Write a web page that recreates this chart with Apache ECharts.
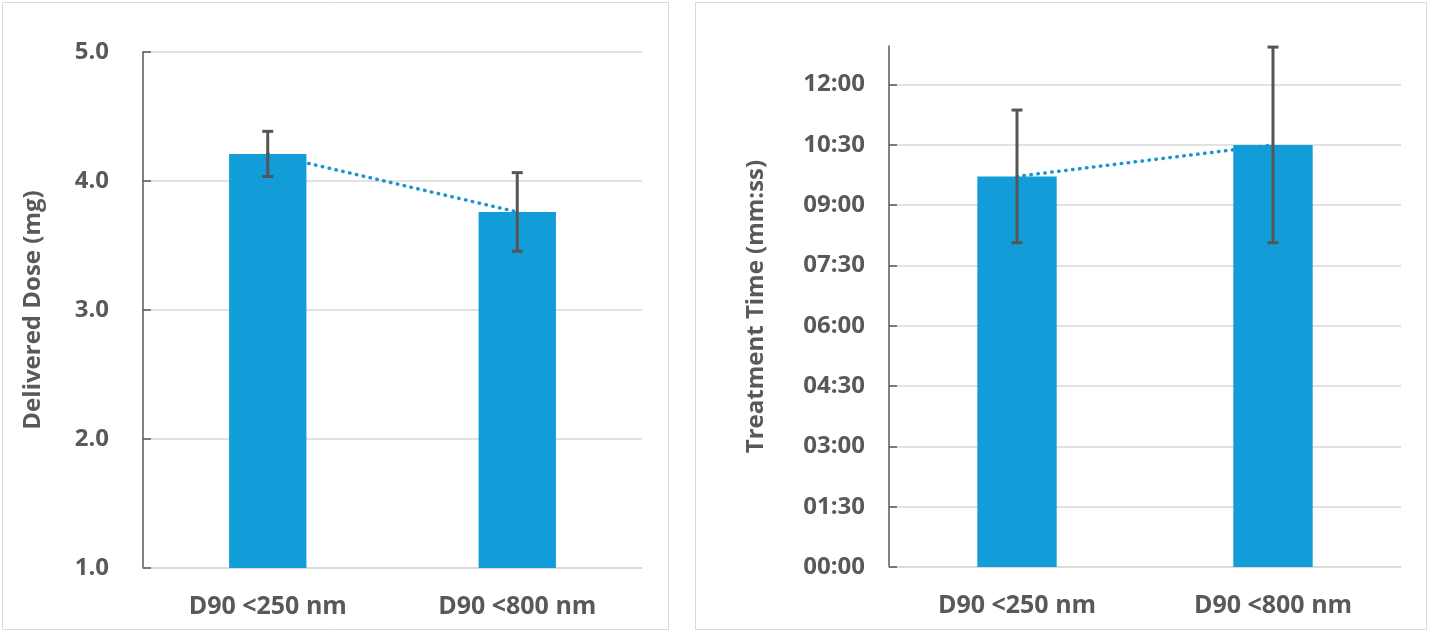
<!DOCTYPE html>
<html>
<head>
<meta charset="utf-8">
<script src="https://cdn.jsdelivr.net/npm/echarts@6/dist/echarts.min.js"></script>
<style>
html,body{margin:0;padding:0;background:#fff;}
#chart{width:1430px;height:633px;}
</style>
</head>
<body>
<div id="chart"></div>
<script>
// Data
const categories = ['D90 <250 nm', 'D90 <800 nm'];
const doseMeans = [4.21, 3.76];          // mg
const doseErrors = [0.175, 0.305];       // mg
const timeMeans = [583, 630];            // seconds
const timeErrors = [99, 146];            // seconds
const doseTicks = [1, 2, 3, 4, 5];
const timeTickStep = 90;                 // seconds
const timeAxisMax = 777.6;               // seconds (0.009 day)

const TXT = '#595959';
const BAR = '#129dd8';
const FONT = 'Open Sans';

function fmtTime(v){
  const m = Math.floor(v/60), s = Math.round(v - m*60);
  return String(m).padStart(2,'0') + ':' + String(s).padStart(2,'0');
}

function errData(means, errs){
  return means.map((m,i)=>[i, m-errs[i], m+errs[i]]);
}

function errRender(params, api){
  const x = api.value(0), lo = api.value(1), hi = api.value(2);
  const p1 = api.coord([x, hi]), p2 = api.coord([x, lo]);
  const h = 5.5;
  const style = {stroke:'#555555', lineWidth:3, fill:null};
  return {type:'group', children:[
    {type:'line', shape:{x1:p1[0],y1:p1[1],x2:p2[0],y2:p2[1]}, style:style},
    {type:'line', shape:{x1:p1[0]-h,y1:p1[1],x2:p1[0]+h,y2:p1[1]}, style:style},
    {type:'line', shape:{x1:p2[0]-h,y1:p2[1],x2:p2[0]+h,y2:p2[1]}, style:style}
  ]};
}

const labelStyle = {color:TXT, fontFamily:FONT, fontWeight:'bold', fontSize:24};
const xLabelStyle = {color:TXT, fontFamily:FONT, fontWeight:'bold', fontSize:25};

const chart = echarts.init(document.getElementById('chart'));
chart.setOption({
  animation:false,
  backgroundColor:'#fff',
  textStyle:{fontFamily:FONT},
  graphic:[
    {type:'rect', shape:{x:2.5,y:2.5,width:666,height:627}, style:{fill:null, stroke:'#d9d9d9', lineWidth:1}, z:-1},
    {type:'rect', shape:{x:695.5,y:2.5,width:731,height:627}, style:{fill:null, stroke:'#d9d9d9', lineWidth:1}, z:-1}
  ],
  grid:[
    {left:143, top:52, right:788, bottom:65},
    {left:889, top:46, right:29, bottom:66}
  ],
  xAxis:[
    {type:'category', gridIndex:0, data:categories,
     axisLine:{lineStyle:{color:'#d9d9d9', width:1.5}}, axisTick:{show:false},
     axisLabel:Object.assign({margin:26}, xLabelStyle)},
    {type:'category', gridIndex:1, data:categories,
     axisLine:{lineStyle:{color:'#d9d9d9', width:1.5}}, axisTick:{show:false},
     axisLabel:Object.assign({margin:26}, xLabelStyle)}
  ],
  yAxis:[
    {type:'value', gridIndex:0, min:doseTicks[0], max:doseTicks[doseTicks.length-1], interval:1,
     name:'Delivered Dose (mg)', nameLocation:'middle', nameGap:98, nameRotate:90,
     nameTextStyle:labelStyle,
     axisLine:{show:true, lineStyle:{color:'#595959', width:1.5}},
     axisTick:{show:true, inside:true, length:8, lineStyle:{color:'#595959', width:1.5}},
     axisLabel:Object.assign({margin:34, formatter:v=>v.toFixed(1)}, labelStyle),
     splitLine:{lineStyle:{color:'#d9d9d9', width:1.5}}},
    {type:'value', gridIndex:1, min:0, max:timeAxisMax, interval:timeTickStep,
     name:'Treatment Time (mm:ss)', nameLocation:'middle', nameGap:121, nameRotate:90,
     nameTextStyle:labelStyle,
     axisLine:{show:true, lineStyle:{color:'#595959', width:1.5}},
     axisTick:{show:true, inside:true, length:8, lineStyle:{color:'#595959', width:1.5}},
     axisLabel:Object.assign({margin:24, showMaxLabel:false, formatter:v=>(v%timeTickStep===0?fmtTime(v):'')}, labelStyle),
     splitLine:{showMaxLine:false, lineStyle:{color:'#d9d9d9', width:1.5}}}
  ],
  series:[
    {type:'line', xAxisIndex:0, yAxisIndex:0, data:doseMeans, symbol:'none', z:1,
     lineStyle:{color:'#1b95d0', width:3.5, type:[0.5,6.5], cap:'round'}},
    {type:'bar', xAxisIndex:0, yAxisIndex:0, data:doseMeans, barWidth:'31%', z:2,
     itemStyle:{color:BAR}},
    {type:'custom', xAxisIndex:0, yAxisIndex:0, data:errData(doseMeans, doseErrors), renderItem:errRender, z:5},
    {type:'line', xAxisIndex:1, yAxisIndex:1, data:timeMeans, symbol:'none', z:1,
     lineStyle:{color:'#1b95d0', width:3.5, type:[0.5,6.5], cap:'round'}},
    {type:'bar', xAxisIndex:1, yAxisIndex:1, data:timeMeans, barWidth:'31%', z:2,
     itemStyle:{color:BAR}},
    {type:'custom', xAxisIndex:1, yAxisIndex:1, data:errData(timeMeans, timeErrors), renderItem:errRender, z:5}
  ]
});
</script>
</body>
</html>
